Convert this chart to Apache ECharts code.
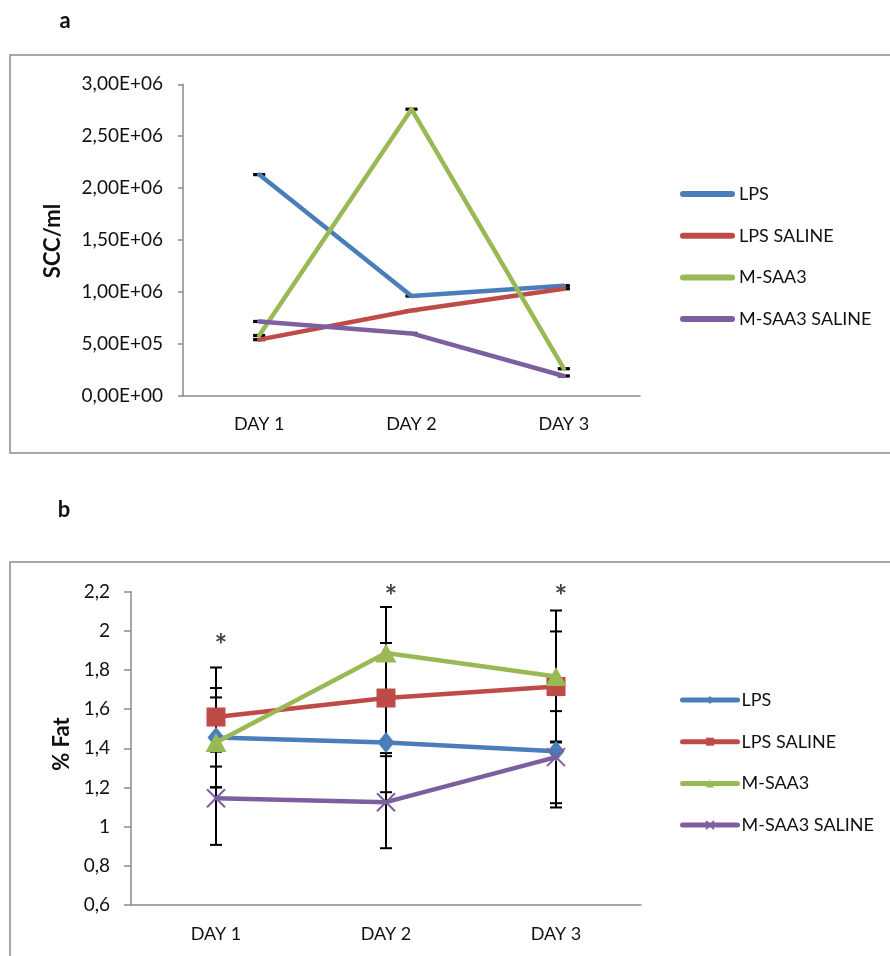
<!DOCTYPE html>
<html>
<head>
<meta charset="utf-8">
<title>SCC and % Fat by day</title>
<script src="https://cdn.jsdelivr.net/npm/echarts@6/dist/echarts.min.js"></script>
<style>
  html, body { margin: 0; padding: 0; background: #fff; }
  #wrap { position: relative; width: 890px; height: 956px; overflow: hidden; }
  #chartA { position: absolute; left: 0; top: 0; width: 890px; height: 460px; }
  #chartB { position: absolute; left: 0; top: 460px; width: 890px; height: 496px; }
</style>
</head>
<body>
<div id="wrap">
  <div id="chartA"></div>
  <div id="chartB"></div>
</div>
<script>
// ---- shared ----
const days = ['DAY 1', 'DAY 2', 'DAY 3'];
const groups = ['LPS', 'LPS SALINE', 'M-SAA3', 'M-SAA3 SALINE'];
const colors = ['#4A7EBB', '#BE4B48', '#98B954', '#7D5FA0'];

// ---- panel a: somatic cell count (SCC/ml) ----
const sccLPS        = [2130000, 960000, 1060000];
const sccLPSSaline  = [540000, 820000, 1030000];
const sccMSAA3      = [580000, 2760000, 260000];
const sccMSAA3Sal   = [715000, 600000, 190000];
const sccErr        = [6000, 6000, 6000];
const sccTicks = ['0,00E+00', '5,00E+05', '1,00E+06', '1,50E+06', '2,00E+06', '2,50E+06', '3,00E+06'];

// ---- panel b: milk fat (%) ----
const fatLPS        = [1.455, 1.43, 1.385];
const fatLPSSaline  = [1.56, 1.657, 1.716];
const fatMSAA3      = [1.43, 1.887, 1.767];
const fatMSAA3Sal   = [1.145, 1.125, 1.355];
const fatErrLPS       = [0.253, 0.254, 0.287];
const fatErrLPSSaline = [0.253, 0.281, 0.281];
const fatErrMSAA3     = [0.23, 0.235, 0.337];
const fatErrMSAA3Sal  = [0.238, 0.235, 0.235];
const fatTicks = ['0,6', '0,8', '1', '1,2', '1,4', '1,6', '1,8', '2', '2,2'];
const starLevel = [1.92, 2.17, 2.17];

const FONT = 'Lato';
const AXIS_GRAY = '#8a8a8a';
const TEXT = '#111';

function errRows(means, errs) {
  return means.map((m, i) => [i, m - errs[i], m + errs[i]]);
}

function renderErr(params, api) {
  const x = api.value(0);
  const lo = api.coord([x, api.value(1)]);
  const hi = api.coord([x, api.value(2)]);
  const w = 6;
  const st = { stroke: '#000', lineWidth: 2 };
  return {
    type: 'group',
    children: [
      { type: 'line', shape: { x1: lo[0], y1: lo[1], x2: hi[0], y2: hi[1] }, style: st },
      { type: 'line', shape: { x1: lo[0] - w, y1: lo[1], x2: lo[0] + w, y2: lo[1] }, style: st },
      { type: 'line', shape: { x1: hi[0] - w, y1: hi[1], x2: hi[0] + w, y2: hi[1] }, style: st }
    ]
  };
}

function errSeries(means, errs) {
  return {
    type: 'custom',
    renderItem: renderErr,
    encode: { x: 0, y: [1, 2] },
    data: errRows(means, errs),
    z: 1,
    silent: true
  };
}

function catAxis(margin) {
  return {
    type: 'category',
    data: days,
    boundaryGap: true,
    axisLine: { lineStyle: { color: AXIS_GRAY, width: 1.5 } },
    axisTick: { length: 6, lineStyle: { color: AXIS_GRAY, width: 1.5 } },
    axisLabel: { color: TEXT, fontFamily: FONT, fontSize: 18, margin: margin }
  };
}

function legendCfg(top, extra) {
  return Object.assign({
    orient: 'vertical',
    left: 675,
    top: top,
    itemWidth: 55,
    itemHeight: 10,
    itemGap: 23.7,
    data: groups,
    selectedMode: false,
    textStyle: { color: TEXT, fontFamily: FONT, fontSize: 18, lineHeight: 18, padding: [0, 0, 0, -1] }
  }, extra || {});
}

function frame(y, h) {
  return {
    type: 'rect',
    shape: { x: 10, y: y, width: 900, height: h },
    style: { fill: 'none', stroke: '#8c8c8c', lineWidth: 1.5 },
    silent: true
  };
}

function txt(x, y, s, size, rot) {
  return {
    type: 'text',
    x: x, y: y,
    rotation: rot || 0,
    style: {
      text: s, fill: TEXT, font: 'bold ' + size + 'px ' + FONT,
      align: 'center', verticalAlign: 'middle'
    },
    silent: true
  };
}

function valAxis(min, max, step, labels, tickLen, margin) {
  return {
    type: 'value',
    min: min, max: max, interval: step,
    splitLine: { show: false },
    axisLine: { show: true, lineStyle: { color: AXIS_GRAY, width: 1.5 } },
    axisTick: { show: true, length: tickLen, lineStyle: { color: AXIS_GRAY, width: 1.5 } },
    axisLabel: {
      color: TEXT, fontFamily: FONT, fontSize: 19, margin: margin,
      formatter: (v, i) => labels[i]
    }
  };
}

// ---- chart a ----
const sccSeries = [sccLPS, sccLPSSaline, sccMSAA3, sccMSAA3Sal];
const capsule = 'path://M3,0H52A3,3 0 0 1 52,6H3A3,3 0 0 1 3,0Z';
const chartA = echarts.init(document.getElementById('chartA'), null, { renderer: 'canvas' });
chartA.setOption({
  animation: false,
  backgroundColor: 'transparent',
  graphic: [
    frame(55, 398),
    txt(65, 21, 'a', 22),
    txt(53, 241, 'SCC/ml', 22, Math.PI / 2)
  ],
  grid: { left: 183, top: 84.3, width: 457, height: 311.4 },
  legend: legendCfg(180, { icon: capsule, itemHeight: 6, itemGap: 23.7 }),
  xAxis: catAxis(19),
  yAxis: valAxis(0, 3000000, 500000, sccTicks, 5, 20),
  series: sccSeries.map((d) => errSeries(d, sccErr)).concat(
    sccSeries.map((d, k) => ({
      name: groups[k],
      type: 'line',
      data: d,
      symbol: 'none',
      color: colors[k],
      lineStyle: { color: colors[k], width: 4.5, cap: 'round', join: 'round' },
      z: 2 + k
    }))
  )
});

// ---- chart b ----
const fatSeries = [fatLPS, fatLPSSaline, fatMSAA3, fatMSAA3Sal];
const fatErrs = [fatErrLPS, fatErrLPSSaline, fatErrMSAA3, fatErrMSAA3Sal];
const markers = [
  { symbol: 'diamond', size: [17, 21] },
  { symbol: 'rect', size: 19 },
  { symbol: 'triangle', size: [21, 19] },
  { symbol: 'path://M0,0L10,10M10,0L0,10', size: 18 }
];

const chartB = echarts.init(document.getElementById('chartB'), null, { renderer: 'canvas' });
chartB.setOption({
  animation: false,
  backgroundColor: 'transparent',
  graphic: [
    frame(102, 500),
    txt(64, 50, 'b', 22),
    txt(62, 284, '% Fat', 22, Math.PI / 2)
  ],
  grid: { left: 131, top: 131.7, width: 510, height: 313.3 },
  legend: legendCfg(226, { lineStyle: { width: 5, cap: 'round' } }),
  xAxis: catAxis(20),
  yAxis: valAxis(0.6, 2.2, 0.2, fatTicks, 7, 21),
  series: fatSeries.map((d, k) => errSeries(d, fatErrs[k])).concat(
    fatSeries.map((d, k) => ({
      name: groups[k],
      type: 'line',
      data: d,
      symbol: markers[k].symbol,
      symbolSize: markers[k].size,
      showAllSymbol: true,
      color: colors[k],
      itemStyle: k === 3
        ? { color: colors[k], borderColor: colors[k], borderWidth: 2 }
        : { color: colors[k], borderWidth: 0 },
      lineStyle: { color: colors[k], width: 4.5, cap: 'round', join: 'round' },
      z: 2 + k
    })),
    [{
      type: 'scatter',
      data: starLevel.map((v, i) => [i, v]),
      symbolSize: 1,
      itemStyle: { color: 'rgba(0,0,0,0)' },
      clip: false,
      silent: true,
      z: 10,
      label: {
        show: true, position: 'inside', formatter: '*',
        color: TEXT, fontFamily: FONT, fontWeight: 'bold', fontSize: 30,
        offset: [5, 0]
      }
    }]
  )
});
</script>
</body>
</html>
